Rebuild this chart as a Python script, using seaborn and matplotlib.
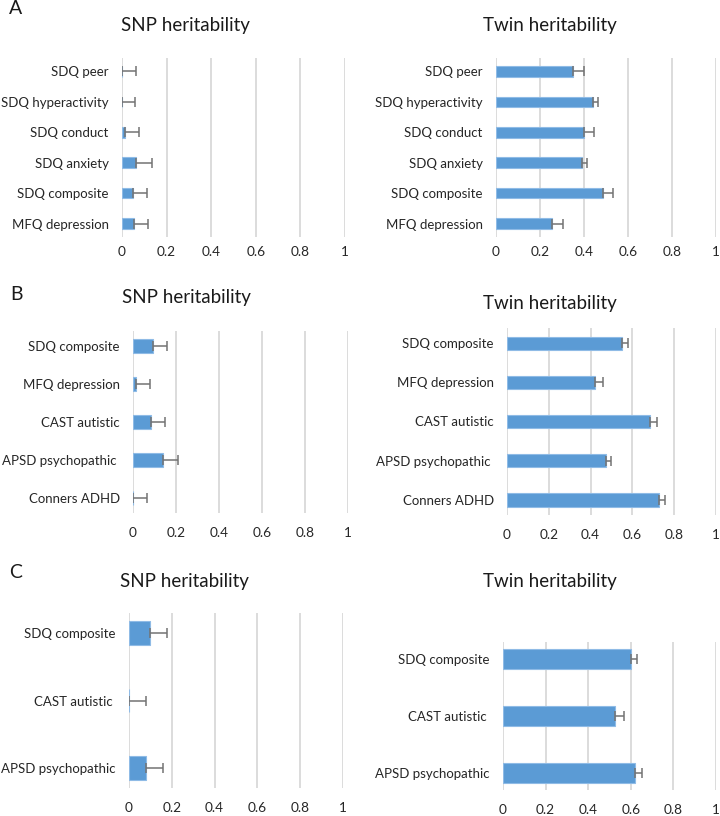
import matplotlib
matplotlib.use("Agg")
import matplotlib.pyplot as plt
import seaborn as sns
import numpy as np

# panel A
a_labels = ["SDQ peer", "SDQ hyperactivity", "SDQ conduct", "SDQ anxiety",
            "SDQ composite", "MFQ depression"]
a_snp = [0.0, 0.0, 0.012, 0.063, 0.049, 0.052]
a_snp_err = [0.062, 0.060, 0.065, 0.070, 0.063, 0.063]
a_twin = [0.348, 0.442, 0.400, 0.389, 0.485, 0.255]
a_twin_err = [0.053, 0.023, 0.047, 0.023, 0.048, 0.048]

# panel B
b_labels = ["SDQ composite", "MFQ depression", "CAST autistic",
            "APSD psychopathic ", "Conners ADHD"]
b_snp = [0.093, 0.014, 0.082, 0.141, 0.0]
b_snp_err = [0.065, 0.065, 0.065, 0.067, 0.065]
b_twin = [0.549, 0.422, 0.682, 0.472, 0.726]
b_twin_err = [0.032, 0.038, 0.035, 0.027, 0.032]

# panel C
c_labels = ["SDQ composite", "CAST autistic ", "APSD psychopathic"]
c_snp = [0.099, 0.0, 0.079]
c_snp_err = [0.080, 0.078, 0.079]
c_twin = [0.600, 0.525, 0.619]
c_twin_err = [0.031, 0.044, 0.033]

ticks = [0, 0.2, 0.4, 0.6, 0.8, 1]
tick_labels = ["0", "0.2", "0.4", "0.6", "0.8", "1"]

BLUE = "#5b9bd5"
W, H = 720, 816

sns.set_theme(style="white")
plt.rcParams["font.family"] = ["Lato", "DejaVu Sans"]

fig = plt.figure(figsize=(W / 100, H / 100), dpi=100)


def px_axes(x0, y0, x1, y1):
    return fig.add_axes([x0 / W, 1 - y1 / H, (x1 - x0) / W, (y1 - y0) / H])


def hbar_panel(box, labels, vals, errs, xpad):
    ax = px_axes(*box)
    sns.barplot(x=vals, y=labels, orient="h", color=BLUE, width=0.35,
                edgecolor="#8fbbe6", linewidth=0.8, saturation=1, ax=ax,
                zorder=2)
    ax.errorbar(vals, np.arange(len(vals)), xerr=[np.zeros(len(errs)), errs],
                fmt="none", ecolor="#737373", elinewidth=1.1, capsize=3.5,
                capthick=1.1, zorder=3)
    ax.set_xlim(0, 1)
    ax.set_xticks(ticks)
    ax.set_xticklabels(tick_labels)
    ax.xaxis.grid(True, color="#d9d9d9", linewidth=1.3, zorder=0)
    ax.set_axisbelow(True)
    for s in ax.spines.values():
        s.set_visible(False)
    ax.tick_params(axis="y", length=0, pad=9.5, labelsize=9.5, labelcolor="#262626")
    ax.tick_params(axis="x", length=0, pad=xpad, labelsize=9.8, labelcolor="#262626")
    ax.set_xlabel("")
    ax.set_ylabel("")
    return ax


hbar_panel((122, 58, 345, 237), a_labels, a_snp, a_snp_err, 6.5)
hbar_panel((496, 58, 716, 237), a_labels, a_twin, a_twin_err, 6.5)
hbar_panel((133, 331, 348, 513), b_labels, b_snp, b_snp_err, 10)
hbar_panel((507, 328, 716, 515), b_labels, b_twin, b_twin_err, 10)
hbar_panel((129, 613, 343, 788), c_labels, c_snp, c_snp_err, 10)
hbar_panel((503, 642, 716, 790), c_labels, c_twin, c_twin_err, 10)

titles = [(185, 25, "SNP heritability"), (550, 25, "Twin heritability"),
          (186, 298, "SNP heritability"), (550, 303, "Twin heritability"),
          (184, 582, "SNP heritability"), (550, 582, "Twin heritability")]
for x, y, t in titles:
    fig.text(x / W, 1 - y / H, t, ha="center", va="center", fontsize=13.5,
             color="#1a1a1a")

for x, y, t in [(16, 9, "A"), (16, 294, "B"), (16, 572, "C")]:
    fig.text(x / W, 1 - y / H, t, ha="center", va="center", fontsize=14,
             color="#1a1a1a")

fig.savefig("out.png", dpi=100, facecolor="white")
plt.close(fig)
